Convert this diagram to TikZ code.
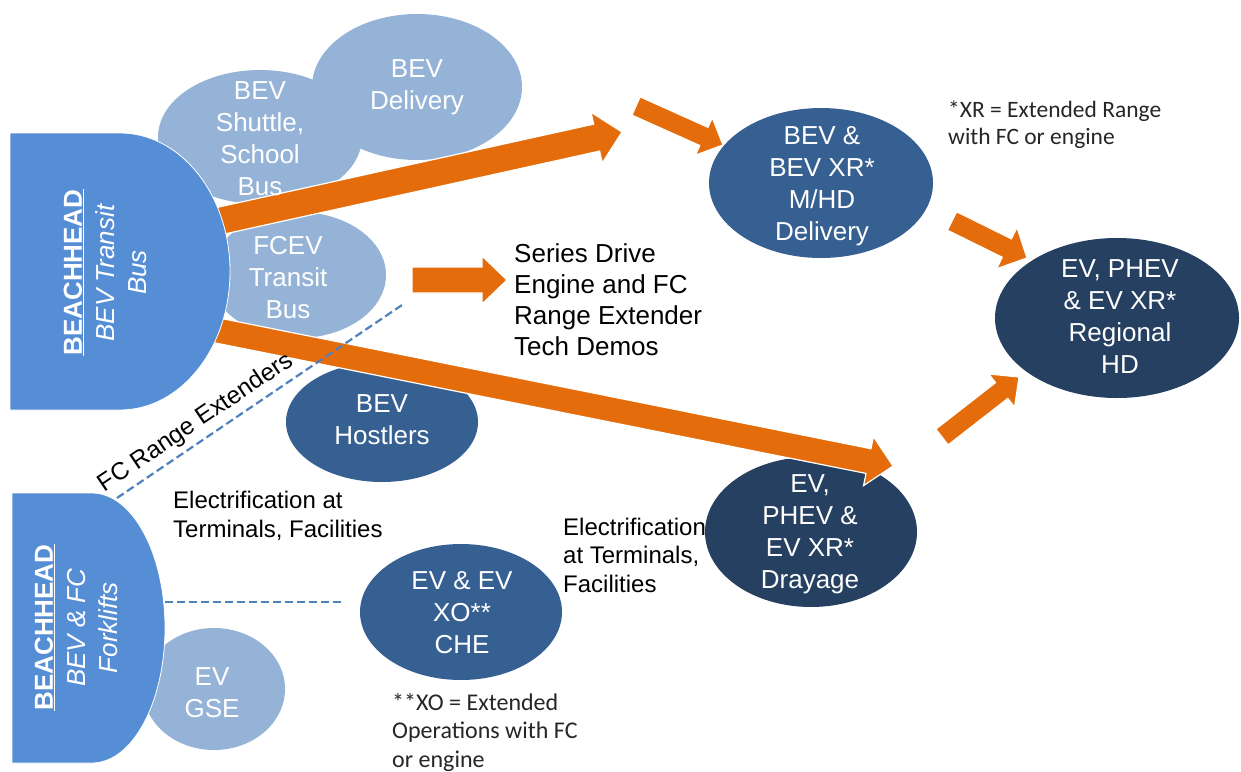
\documentclass[tikz,border=0pt]{standalone}
\usepackage{fontspec}
\setmainfont{Liberation Sans}
\newfontfamily\calibfont{Carlito}
\usetikzlibrary{shapes.geometric,calc}
\definecolor{bhblue}{HTML}{558ED5}
\definecolor{lightblue}{HTML}{95B3D7}
\definecolor{midblue}{HTML}{376092}
\definecolor{darkblue}{HTML}{254061}
\definecolor{arrorange}{HTML}{E46C0A}
\definecolor{dashblue}{HTML}{4F81BD}
% block arrow: #1 tail, #2 tip, #3 shaft half width, #4 head half width, #5 head length
\newcommand{\blockarr}[5]{%
  \coordinate (hb) at ($(#2)!#5!(#1)$);
  \filldraw[blockarrow] ($(#1)!#3!90:(#2)$) -- ($(hb)!#3!90:(#2)$) -- ($(hb)!#4!90:(#2)$) -- (#2)
     -- ($(hb)!#4!-90:(#2)$) -- ($(hb)!#3!-90:(#2)$) -- ($(#1)!#3!-90:(#2)$) -- cycle;
}
\begin{document}
\begin{tikzpicture}[x=1pt,y=-1pt,
  blob/.style={ellipse, inner sep=0pt, draw=none},
  lightell/.style={blob, fill=lightblue},
  midell/.style={blob, fill=midblue},
  darkell/.style={blob, fill=darkblue},
  elltext/.style={anchor=north, inner sep=0pt, align=center, text=white, font=\fontsize{26}{32}\selectfont},
  bhtext/.style={rotate=90, anchor=north, inner sep=0pt, align=center, text=white, font=\fontsize{26}{32.5}\selectfont},
  labeltext/.style={anchor=north west, inner sep=0pt, align=left, text=black, font=\fontsize{24}{29}\selectfont},
  notetext/.style={anchor=north west, inner sep=0pt, align=left, text=black!85, font=\calibfont\fontsize{23.5}{28}\selectfont},
  blockarrow/.style={fill=arrorange, draw=white, line width=1.2pt, line join=miter},
  dashline/.style={draw=dashblue, line width=2.2pt, dash pattern=on 8pt off 4pt},
  bhshape/.style={fill=bhblue, draw=white, line width=0.8pt}
]
\useasboundingbox (0,0) rectangle (1241,771);
\fill[white] (0,0) rectangle (1241,771);

% light ellipses
\node[lightell, minimum width=204pt, minimum height=134pt] (shuttle) at (260,137) {};
\node[lightell, minimum width=210pt, minimum height=146pt] (delivery) at (417,87) {};
\node[lightell, minimum width=176pt, minimum height=126pt] (fcev) at (298,275) {};
\node[lightell, minimum width=142pt, minimum height=122pt] (gse) at (214,689) {};

% medium ellipses
\node[midell, minimum width=192pt, minimum height=120pt] (hostlers) at (382,422) {};
\node[midell, minimum width=224pt, minimum height=150pt] (mhd) at (821,183) {};
\node[midell, minimum width=202pt, minimum height=136pt] (che) at (461,612) {};

% text partly behind the drayage ellipse
\node[labeltext, font=\fontsize{24}{28.5}\selectfont] (elecR) at (563,517.5) {Electrification\\at Terminals,\\Facilities};

% dark ellipses
\node[darkell, minimum width=244pt, minimum height=160pt] (regional) at (1117,318) {};
\node[darkell, minimum width=212pt, minimum height=150pt] (drayage) at (811,532) {};

% arrows
\coordinate (a1t) at (200,225.3);
\coordinate (a1h) at (622,132);
\coordinate (a2t) at (200,327);
\coordinate (a2h) at (893,466);
\coordinate (a3t) at (412,280);
\coordinate (a3h) at (507,280);
\coordinate (a4t) at (636,106);
\coordinate (a4h) at (723,145);
\coordinate (a5t) at (952,221);
\coordinate (a5h) at (1027,258);
\coordinate (a6t) at (942,437);
\coordinate (a6h) at (1019,377);
\blockarr{a1t}{a1h}{13.8pt}{26pt}{26pt}
\blockarr{a2t}{a2h}{12.6pt}{25pt}{25pt}
\blockarr{a3t}{a3h}{13pt}{24pt}{25pt}
\blockarr{a4t}{a4h}{10pt}{20.5pt}{21pt}
\blockarr{a5t}{a5h}{10.3pt}{23pt}{22.5pt}
\blockarr{a6t}{a6h}{10pt}{21pt}{22pt}

% beachhead shapes
\filldraw[bhshape] (10,133) -- (120,133) arc[start angle=-90, end angle=90, x radius=110, y radius=138.5] -- (10,410) -- cycle;
\filldraw[bhshape] (12,493) -- (92,493) arc[start angle=-90, end angle=90, x radius=73, y radius=135] -- (12,763) -- cycle;

% dashed lines
\coordinate (fcA) at (117,498);
\coordinate (fcB) at (405,303);
\coordinate (xoA) at (165,602);
\coordinate (xoB) at (345,602);
\draw[dashline] (fcA) -- (fcB);
\draw[dashline] (xoA) -- (xoB);

% texts in ellipses
\node[elltext] (shuttleT) at (260,81) {BEV\\Shuttle,\\School\\Bus};
\node[elltext] (deliveryT) at (417,59) {BEV\\Delivery};
\node[elltext] (fcevT) at (288,236) {FCEV\\Transit\\Bus};
\node[elltext] (gseT) at (212,667) {EV\\GSE};
\node[elltext] (hostlersT) at (382,394) {BEV\\Hostlers};
\node[elltext] (mhdT) at (822,126) {BEV \&\\BEV XR*\\M/HD\\Delivery};
\node[elltext] (cheT) at (462,571) {EV \& EV\\XO**\\CHE};
\node[elltext] (regionalT) at (1120,259) {EV, PHEV\\\& EV XR*\\Regional\\HD};
\node[elltext] (drayageT) at (810,474) {EV,\\PHEV \&\\EV XR*\\Drayage};

% beachhead texts
\node[bhtext] (bh1T) at (63.4,272.5) {\underline{\textbf{BEACHHEAD}}\\\textit{BEV Transit}\\\textit{Bus}};
\node[bhtext] (bh2T) at (34.6,627.5) {\underline{\textbf{BEACHHEAD}}\\\textit{BEV \& FC}\\\textit{Forklifts}};

% other labels
\node[labeltext, font=\fontsize{26}{31}\selectfont] (series) at (514,243) {Series Drive\\Engine and FC\\Range Extender\\Tech Demos};
\node[labeltext] (elecL) at (173,490.5) {Electrification at\\Terminals, Facilities};
\node[rotate=34, inner sep=0pt, font=\fontsize{24.5}{29}\selectfont] (fcrange) at (196,423) {FC Range Extenders};
\node[notetext, font=\calibfont\fontsize{23.5}{26.5}\selectfont] (xrnote) at (948,101) {*XR = Extended Range\\with FC or engine};
\node[notetext, font=\calibfont\fontsize{24}{28.5}\selectfont] (xonote) at (392,693) {**XO = Extended\\Operations with FC\\or engine};
\end{tikzpicture}
\end{document}
